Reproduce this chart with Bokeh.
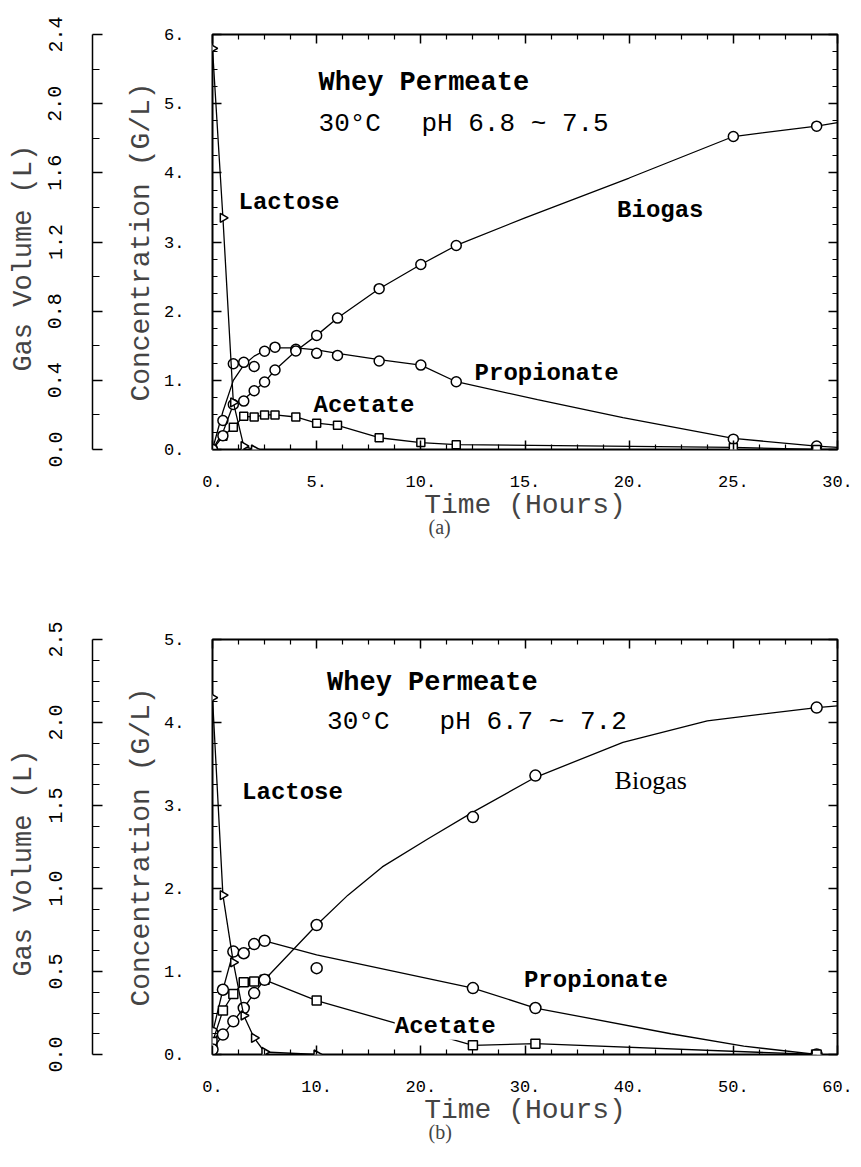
import numpy as np
from bokeh.plotting import figure
from bokeh.models import Range1d, LinearAxis, FixedTicker, CustomJSTickFormatter, Label, Title
from bokeh.layouts import column, row
from bokeh.embed import file_html
from bokeh.resources import INLINE

MONO = "Liberation Mono"
SERIF = "Liberation Serif"

# ---------------- data : panel (a) ----------------
a_t = [0, 0.5, 1, 1.5, 2, 2.5, 3, 4, 5, 6, 8, 10, 11.7, 25, 29]
a_lactose_t = [0, 0.5, 1, 1.5, 2]
a_lactose = [5.8, 3.35, 0.68, 0.05, 0.0]
a_propionate = [0, 0.42, 1.24, 1.26, 1.2, 1.42, 1.48, 1.45, 1.39, 1.36, 1.28, 1.22, 0.98, 0.15, 0.05]
a_acetate = [0, 0.19, 0.32, 0.48, 0.47, 0.5, 0.5, 0.47, 0.38, 0.35, 0.17, 0.1, 0.07, 0.03, 0.0]
a_biogas = [0, 0.08, 0.26, 0.28, 0.34, 0.39, 0.46, 0.57, 0.66, 0.76, 0.93, 1.07, 1.18, 1.81, 1.87]  # litres
# drawn (fitted) curves
a_prop_fit_t = [0, 0.5, 1, 1.5, 2, 2.5, 3, 4, 5, 6, 8, 10, 11.7, 15.6, 19.7, 25, 29, 30]
a_prop_fit = [0, 0.55, 1.0, 1.22, 1.35, 1.43, 1.47, 1.47, 1.44, 1.39, 1.3, 1.22, 0.98, 0.72, 0.46, 0.16, 0.05, 0.03]
a_bio_fit_t = [0, 0.5, 1, 1.5, 2, 2.5, 3, 4, 5, 6, 8, 10, 11.7, 15, 20, 25, 29, 30]
a_bio_fit = [0, 0.1, 0.26, 0.29, 0.34, 0.39, 0.46, 0.57, 0.66, 0.76, 0.93, 1.07, 1.18, 1.34, 1.57, 1.81, 1.87, 1.89]
a_acet_fit_t = [0, 0.5, 1, 1.5, 2, 2.5, 3, 4, 5, 6, 8, 10, 11.7, 25, 29, 30]
a_acet_fit = [0, 0.19, 0.32, 0.48, 0.47, 0.5, 0.5, 0.47, 0.38, 0.35, 0.17, 0.1, 0.07, 0.03, 0.0, 0.0]

# ---------------- data : panel (b) ----------------
b_t = [0, 1, 2, 3, 4, 5, 10, 25, 31, 58]
b_lactose_t = [0, 1, 2, 3, 4, 5, 10]
b_lactose = [4.3, 1.92, 1.11, 0.47, 0.2, 0.03, 0.0]
b_propionate = [0.26, 0.78, 1.24, 1.22, 1.33, 1.37, 1.04, 0.8, 0.56, 0.0]
b_acetate = [0.15, 0.53, 0.73, 0.87, 0.88, 0.9, 0.65, 0.11, 0.13, 0.0]
b_biogas = [0.03, 0.12, 0.2, 0.28, 0.37, 0.45, 0.78, 1.43, 1.68, 2.09]  # litres
b_prop_fit_t = [0, 1, 2, 3, 4, 5, 10, 25, 31, 44, 51, 58]
b_prop_fit = [0.26, 0.78, 1.24, 1.22, 1.33, 1.37, 1.2, 0.8, 0.56, 0.25, 0.1, 0.0]
b_bio_fit_t = [0, 1, 2, 3, 4, 5, 10, 13, 16.3, 20.7, 25, 31, 39.4, 47.5, 58, 60]
b_bio_fit = [0.03, 0.12, 0.2, 0.28, 0.37, 0.45, 0.78, 0.96, 1.13, 1.3, 1.46, 1.67, 1.88, 2.01, 2.09, 2.1]

# ticks
a_xmajor = [0, 5, 10, 15, 20, 25, 30]
a_ymajor = [0, 1, 2, 3, 4, 5, 6]
a_gmajor = [0, 0.4, 0.8, 1.2, 1.6, 2.0, 2.4]
b_xmajor = [0, 10, 20, 30, 40, 50, 60]
b_ymajor = [0, 1, 2, 3, 4, 5]
b_gmajor = [0, 0.5, 1.0, 1.5, 2.0, 2.5]

GAS_W = 104          # width of the gas-volume axis strip
MAIN_W = 749


def minors(major, n):
    out = []
    for a, b in zip(major[:-1], major[1:]):
        for k in range(1, n):
            out.append(a + (b - a) * k / n)
    return out


def frame_axis(ax, major, minor, labels, standoff=26):
    ax.ticker = FixedTicker(ticks=major, minor_ticks=minor)
    ax.axis_line_color = None
    ax.major_tick_in = 9
    ax.major_tick_out = 0
    ax.minor_tick_in = 5
    ax.minor_tick_out = 0
    ax.major_tick_line_width = 1.5
    ax.minor_tick_line_width = 1.2
    ax.major_tick_line_color = "black"
    ax.minor_tick_line_color = "black"
    if labels:
        ax.formatter = CustomJSTickFormatter(code="return tick.toFixed(0) + '.'")
        ax.major_label_text_font = MONO
        ax.major_label_text_font_size = "17px"
        ax.major_label_text_color = "black"
        ax.major_label_standoff = standoff
    else:
        ax.formatter = CustomJSTickFormatter(code="return ''")
        ax.major_label_text_font_size = "0px"
        ax.major_label_standoff = 0


def add_label(p, x, y, text, size, bold=True, font=MONO, bg=None):
    lab = Label(x=x, y=y, text=text, text_font=font, text_font_size=size,
                text_font_style="bold" if bold else "normal",
                text_baseline="middle", text_align="left", text_color="black")
    if bg is not None:
        lab.background_fill_color = bg
    p.add_layout(lab)


def make_gas(height, top, bottom, gmax, gmajor, gminor_n):
    g = figure(width=GAS_W, height=height, x_range=Range1d(0, 1), y_range=Range1d(0, gmax),
               output_backend="svg", toolbar_location=None, x_axis_location=None,
               min_border_left=92, min_border_right=0, min_border_top=top, min_border_bottom=bottom)
    g.xgrid.visible = False
    g.ygrid.visible = False
    g.outline_line_color = None
    g.background_fill_color = "white"
    g.border_fill_color = "white"
    ax = g.yaxis[0]
    ax.ticker = FixedTicker(ticks=gmajor, minor_ticks=minors(gmajor, gminor_n))
    ax.formatter = CustomJSTickFormatter(code="return tick.toFixed(1)")
    ax.axis_label = "Gas  Volume  (L)"
    ax.axis_label_text_font = MONO
    ax.axis_label_text_font_size = "27px"
    ax.axis_label_text_font_style = "normal"
    ax.axis_label_standoff = 7
    ax.major_label_orientation = "vertical"
    ax.major_label_text_font = MONO
    ax.major_label_text_font_size = "20px"
    ax.major_label_text_color = "black"
    ax.major_label_standoff = 31
    ax.axis_line_width = 1.5
    ax.axis_line_color = "black"
    ax.major_tick_in = 10
    ax.major_tick_out = 0
    ax.minor_tick_in = 7
    ax.minor_tick_out = 0
    ax.major_tick_line_width = 1.3
    ax.minor_tick_line_width = 1.2
    ax.major_tick_line_color = "black"
    ax.minor_tick_line_color = "black"
    return g


def make_main(height, top, bottom, xmax, xmajor, ymax, ymajor, gmax, caption, cap_offset):
    p = figure(width=MAIN_W, height=height, x_range=Range1d(0, xmax), y_range=Range1d(0, ymax),
               output_backend="svg", toolbar_location=None,
               min_border_left=212 - GAS_W, min_border_right=16, min_border_top=top, min_border_bottom=bottom)
    p.extra_y_ranges = {"gas": Range1d(0, gmax)}
    p.xgrid.visible = False
    p.ygrid.visible = False
    p.outline_line_color = "black"
    p.outline_line_width = 2
    p.background_fill_color = "white"
    p.border_fill_color = "white"

    xa = p.xaxis[0]
    frame_axis(xa, xmajor, minors(xmajor, 4), True, standoff=26)
    xa.axis_label = "Time (Hours)"
    xa.axis_label_text_font = MONO
    xa.axis_label_text_font_size = "28px"
    xa.axis_label_text_font_style = "normal"
    xa.axis_label_standoff = 0

    ya = p.yaxis[0]
    frame_axis(ya, ymajor, minors(ymajor, 4), True, standoff=28)
    ya.axis_label = "Concentration (G/L)"
    ya.axis_label_text_font = MONO
    ya.axis_label_text_font_size = "28px"
    ya.axis_label_text_font_style = "normal"
    ya.axis_label_standoff = 4

    ra = LinearAxis()
    frame_axis(ra, ymajor, minors(ymajor, 4), False)
    p.add_layout(ra, "right")
    ta = LinearAxis()
    frame_axis(ta, xmajor, minors(xmajor, 4), False)
    p.add_layout(ta, "above")

    cap = Title(text=caption, align="left", offset=cap_offset, text_font=SERIF,
                text_font_size="20px", text_font_style="normal", standoff=-20)
    p.add_layout(cap, "below")
    return p


def series(p, t, v, marker, size, line_t=None, line_v=None, gas=False, angle=0.0):
    kw = {"y_range_name": "gas"} if gas else {}
    lt = t if line_t is None else line_t
    lv = v if line_v is None else line_v
    p.line(lt, lv, line_color="black", line_width=1.3, **kw)
    p.scatter(t, v, marker=marker, size=size, angle=angle, fill_color="white",
              line_color="black", line_width=1.5, **kw)


H1, T1, B1 = 570, 34, 121
H2, T2, B2 = 596, 69, 112

# ---------------- panel (a) ----------------
ga = make_gas(H1, T1, B1, 2.4, a_gmajor, 2)
pa = make_main(H1, T1, B1, 30, a_xmajor, 6, a_ymajor, 2.4, "(a)", 216)
series(pa, a_t, a_propionate, "circle", 10, a_prop_fit_t, a_prop_fit)
series(pa, a_t, a_acetate, "square", 8, a_acet_fit_t, a_acet_fit)
series(pa, a_t, a_biogas, "circle", 10, a_bio_fit_t, a_bio_fit, gas=True)
series(pa, a_lactose_t, a_lactose, "triangle", 9, angle=-np.pi / 2)

add_label(pa, 5.09, 5.30, "Whey Permeate", "27px")
add_label(pa, 5.09, 4.71, "30°C", "26px", bold=False)
add_label(pa, 10.03, 4.71, "pH 6.8 ~ 7.5", "26px", bold=False)
add_label(pa, 1.25, 3.57, "Lactose", "24px")
add_label(pa, 19.42, 3.45, "Biogas", "24px")
add_label(pa, 12.58, 1.10, "Propionate", "24px")
add_label(pa, 4.85, 0.64, "Acetate", "24px")

# ---------------- panel (b) ----------------
gb = make_gas(H2, T2, B2, 2.5, b_gmajor, 4)
pb = make_main(H2, T2, B2, 60, b_xmajor, 5, b_ymajor, 2.5, "(b)", 216)
series(pb, b_t, b_propionate, "circle", 11, b_prop_fit_t, b_prop_fit)
series(pb, b_t, b_acetate, "square", 9)
series(pb, b_t, b_biogas, "circle", 11, b_bio_fit_t, b_bio_fit, gas=True)
series(pb, b_lactose_t, b_lactose, "triangle", 9, angle=-np.pi / 2)

add_label(pb, 11.0, 4.48, "Whey Permeate", "27px")
add_label(pb, 11.0, 4.01, "30°C", "26px", bold=False)
add_label(pb, 21.8, 4.01, "pH 6.7 ~ 7.2", "26px", bold=False)
add_label(pb, 2.84, 3.16, "Lactose", "24px")
add_label(pb, 38.6, 3.30, "Biogas", "26px", bold=False, font=SERIF)
add_label(pb, 29.9, 0.89, "Propionate", "24px")
add_label(pb, 17.5, 0.34, "Acetate", "24px", bg="white")

layout = column(row(ga, pa, spacing=0), row(gb, pb, spacing=0), spacing=0)
open("out.html", "w").write(file_html(layout, INLINE))
